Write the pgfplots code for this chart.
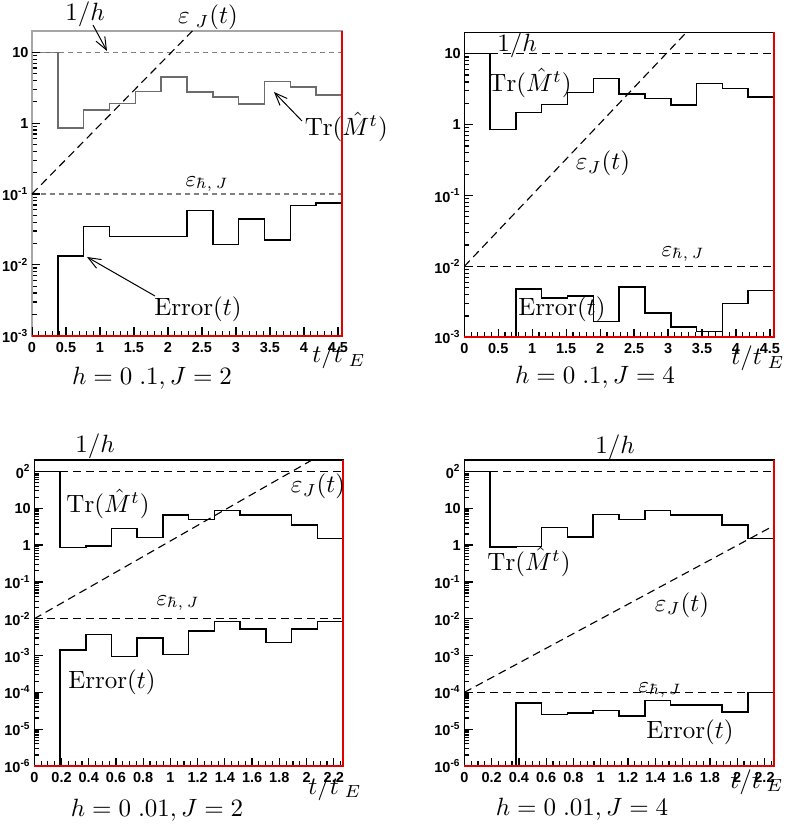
\documentclass[border=0pt]{standalone}
\usepackage{pgfplots}
\pgfplotsset{compat=1.18}
\usetikzlibrary{arrows.meta}
\usepackage{fontspec}
\newfontfamily\helv{Liberation Sans}

\pgfplotsset{
  rootpad/.style={
    scale only axis,
    tick align=inside,
    xtick pos=bottom, ytick pos=left,
    major tick length=3.4pt, minor tick length=2pt,
    ticklabel style={font=\helv\bfseries\fontsize{5.8}{7}\selectfont},
    xticklabel style={yshift=1pt},
    yticklabel style={inner sep=1.2pt},
    /pgf/number format/assume math mode=true,
    axis line style={line width=0.5pt},
  },
  every tick/.append style={black, line width=0.5pt},
  hist/.style={const plot, no marks, line width=0.6pt, black},
  guide/.style={no marks, line width=0.45pt, black, dash pattern=on 3.2pt off 2pt},
}
\newcommand{\redframe}[1]{\draw[red!90!black, line width=0.9pt] (#1.south west) -- (#1.south east) -- (#1.north east);}
% ROOT-style inward ticks: #1 ymin, #2 major x, #3 minor x, #4 major y, #5 minor y
\newcommand{\rootticks}[5]{%
  \pgfplotsinvokeforeach{#3}{\draw[black, line width=0.45pt] (axis cs:##1,#1) -- ([yshift=2pt]axis cs:##1,#1);}%
  \pgfplotsinvokeforeach{#2}{\draw[black, line width=0.5pt] (axis cs:##1,#1) -- ([yshift=3.4pt]axis cs:##1,#1);}%
  \pgfplotsinvokeforeach{#5}{\draw[black, line width=0.45pt] (axis cs:0,##1) -- ([xshift=2pt]axis cs:0,##1);}%
  \pgfplotsinvokeforeach{#4}{\draw[black, line width=0.5pt] (axis cs:0,##1) -- ([xshift=3.4pt]axis cs:0,##1);}%
}
\newcommand{\minorA}{2e-3,3e-3,4e-3,5e-3,6e-3,7e-3,8e-3,9e-3,2e-2,3e-2,4e-2,5e-2,6e-2,7e-2,8e-2,9e-2,0.2,0.3,0.4,0.5,0.6,0.7,0.8,0.9,2,3,4,5,6,7,8,9}
\newcommand{\minorB}{2e-6,3e-6,4e-6,5e-6,6e-6,7e-6,8e-6,9e-6,2e-5,3e-5,4e-5,5e-5,6e-5,7e-5,8e-5,9e-5,2e-4,3e-4,4e-4,5e-4,6e-4,7e-4,8e-4,9e-4,2e-3,3e-3,4e-3,5e-3,6e-3,7e-3,8e-3,9e-3,2e-2,3e-2,4e-2,5e-2,6e-2,7e-2,8e-2,9e-2,0.2,0.3,0.4,0.5,0.6,0.7,0.8,0.9,2,3,4,5,6,7,8,9,20,30,40,50,60,70,80,90}

\begin{document}
\begin{tikzpicture}
\path[use as bounding box] (0,0) rectangle (316.4pt,-330pt);

% h = 0.1, J = 2
\begin{axis}[ymode=log, rootpad, name=p1, at={(12.8pt,-134.28pt)}, width=124pt, height=121.9pt,
  xmin=0, xmax=4.56, ymin=1e-3, ymax=20,
  xtick={0,0.5,...,4.5},
  ytick={1e-3,1e-2,1e-1,1,10},
  yticklabels={10\textsuperscript{-3},10\textsuperscript{-2},10\textsuperscript{-1},1,10},
  axis line style={gray!70, line width=0.7pt}]
  \addplot[hist, gray!85!black] coordinates {(0,10) (0.38,0.85) (0.76,1.53) (1.14,1.89) (1.52,2.8) (1.9,4.5) (2.28,2.74) (2.66,2.33) (3.04,1.86) (3.42,3.84) (3.8,3.23) (4.18,2.49) (4.56,2.49)};
  \addplot[hist] coordinates {(0.38,1e-3) (0.38,0.0134) (0.76,0.0345) (1.14,0.0251) (1.52,0.0251) (1.9,0.0251) (2.28,0.0588) (2.66,0.0194) (3.04,0.0447) (3.42,0.0223) (3.8,0.0683) (4.18,0.0746) (4.56,0.0746)};
  \addplot[guide, gray, dash pattern=on 2pt off 1.6pt] coordinates {(0,10) (4.56,10)};
  \addplot[guide, gray, dash pattern=on 2pt off 1.6pt] coordinates {(0,0.1) (4.56,0.1)};
  \addplot[guide] coordinates {(0,0.1) (2.36,20)};
  \rootticks{1e-3}{0,0.5,...,4.5}{0.1,0.2,...,4.5}{1e-3,1e-2,1e-1,1,10}{\minorA}
\end{axis}
\redframe{p1}

% h = 0.1, J = 4
\begin{axis}[ymode=log, rootpad, name=p2, at={(185.72pt,-134.92pt)}, width=123.9pt, height=122pt,
  xmin=0, xmax=4.56, ymin=1e-3, ymax=20,
  xtick={0,0.5,...,4.5},
  ytick={1e-3,1e-2,1e-1,1,10},
  yticklabels={10\textsuperscript{-3},10\textsuperscript{-2},10\textsuperscript{-1},1,10}]
  \addplot[hist] coordinates {(0,10) (0.38,0.85) (0.76,1.49) (1.14,1.91) (1.52,2.85) (1.9,4.49) (2.28,2.71) (2.66,2.32) (3.04,1.89) (3.42,3.82) (3.8,3.21) (4.18,2.43) (4.56,2.43)};
  \addplot[hist] coordinates {(0.76,1e-3) (0.76,0.0048) (1.14,0.0036) (1.52,0.0038) (1.9,0.00166) (2.28,0.0051) (2.66,0.0022) (3.04,0.0014) (3.42,0.0012) (3.8,0.0030) (4.18,0.0046) (4.56,0.0046)};
  \addplot[guide] coordinates {(0,10) (4.56,10)};
  \addplot[guide] coordinates {(0,0.01) (4.56,0.01)};
  \addplot[guide] coordinates {(0,0.01) (3.27,20)};
  \rootticks{1e-3}{0,0.5,...,4.5}{0.1,0.2,...,4.5}{1e-3,1e-2,1e-1,1,10}{\minorA}
\end{axis}
\redframe{p2}

% h = 0.01, J = 2
\begin{axis}[ymode=log, rootpad, name=p3, at={(13.72pt,-306.4pt)}, width=123.6pt, height=122.4pt,
  xmin=0, xmax=2.27, ymin=1e-6, ymax=205,
  xtick={0,0.2,...,2.2},
  ytick={1e-6,1e-5,1e-4,1e-3,1e-2,1e-1,1,10,100},
  yticklabels={10\textsuperscript{-6},10\textsuperscript{-5},10\textsuperscript{-4},10\textsuperscript{-3},10\textsuperscript{-2},10\textsuperscript{-1},1,10,0\textsuperscript{2}}]
  \addplot[hist] coordinates {(0,100) (0.189,0.865) (0.378,0.94) (0.567,2.84) (0.756,1.62) (0.945,6.5) (1.134,5.0) (1.323,8.6) (1.512,6.5) (1.701,6.5) (1.89,3.5) (2.079,1.52) (2.27,1.52)};
  \addplot[hist] coordinates {(0.189,1e-6) (0.189,0.00142) (0.378,0.0037) (0.567,0.00094) (0.756,0.0030) (0.945,0.00108) (1.134,0.0046) (1.323,0.0084) (1.512,0.0052) (1.701,0.00225) (1.89,0.0053) (2.079,0.0084) (2.27,0.0084)};
  \addplot[guide] coordinates {(0,100) (2.27,100)};
  \addplot[guide] coordinates {(0,0.01) (2.27,0.01)};
  \addplot[guide] coordinates {(0,0.01) (2.04,205)};
  \rootticks{1e-6}{0,0.2,...,2.2}{0.05,0.1,...,2.25}{1e-6,1e-5,1e-4,1e-3,1e-2,1e-1,1,10,100}{\minorB}
\end{axis}
\redframe{p3}

% h = 0.01, J = 4
\begin{axis}[ymode=log, rootpad, name=p4, at={(185.72pt,-306.4pt)}, width=123.9pt, height=122.4pt,
  xmin=0, xmax=2.27, ymin=1e-6, ymax=205,
  xtick={0,0.2,...,2.2},
  ytick={1e-6,1e-5,1e-4,1e-3,1e-2,1e-1,1,10,100},
  yticklabels={10\textsuperscript{-6},10\textsuperscript{-5},10\textsuperscript{-4},10\textsuperscript{-3},10\textsuperscript{-2},10\textsuperscript{-1},1,10,0\textsuperscript{2}}]
  \addplot[hist] coordinates {(0,100) (0.189,0.88) (0.378,0.93) (0.567,2.97) (0.756,1.65) (0.945,6.7) (1.134,4.9) (1.323,8.6) (1.512,6.5) (1.701,6.5) (1.89,3.5) (2.079,1.52) (2.27,1.52)};
  \addplot[hist] coordinates {(0.378,1e-6) (0.378,5.1e-5) (0.567,2.5e-5) (0.756,2.75e-5) (0.945,3.2e-5) (1.134,2.3e-5) (1.323,6.1e-5) (1.512,4.6e-5) (1.701,4.5e-5) (1.89,2.9e-5) (2.079,1e-4) (2.27,1e-4)};
  \addplot[guide] coordinates {(0,100) (2.27,100)};
  \addplot[guide] coordinates {(0,1e-4) (2.27,1e-4)};
  \addplot[guide] coordinates {(0,1e-4) (2.27,3.4)};
  \rootticks{1e-6}{0,0.2,...,2.2}{0.05,0.1,...,2.25}{1e-6,1e-5,1e-4,1e-3,1e-2,1e-1,1,10,100}{\minorB}
\end{axis}
\redframe{p4}

\begin{scope}[x=0.4pt, y=-0.4pt]
  % top left
  \node at (85,14) {$1/h$};
  \draw[-{Straight Barb[length=5pt,width=4pt]}, thin] (93,25) -- (107,51);
  \node at (208,17) {$\varepsilon_{\;J}(t)$};
  \node[anchor=west] at (296,127) {$\mathrm{Tr}(\hat{M}^t)$};
  \draw[-{Straight Barb[length=5pt,width=4pt]}, thin] (302,121) -- (274,92);
  \node[font=\small] at (207,184) {$\varepsilon_{\hbar,\,J}$};
  \node at (198,309) {$\mathrm{Error}(t)$};
  \draw[-{Straight Barb[length=5pt,width=4pt]}, thin] (155,296) -- (87,257);
  \node at (339,356) {$t/t_{\;E}$};
  \node at (152,378) {$h = 0\;.1, J = 2$};
  % top right
  \node at (517,45) {$1/h$};
  \node at (530,83) {$\mathrm{Tr}(\hat{M}^t)$};
  \node at (603,163) {$\varepsilon_J(t)$};
  \node[font=\small] at (683,254) {$\varepsilon_{\hbar,\,J}$};
  \node at (562,309) {$\mathrm{Error}(t)$};
  \node at (758,358) {$t/t_{\;E}$};
  \node at (595,377) {$h = 0\;.1, J = 4$};
  % bottom left
  \node at (95,446) {$1/h$};
  \node at (108,504) {$\mathrm{Tr}(\hat{M}^t)$};
  \node at (318,486) {$\varepsilon_J(t)$};
  \node[font=\small] at (178,603) {$\varepsilon_{\hbar,\,J}$};
  \node at (112,682) {$\mathrm{Error}(t)$};
  \node at (335,788) {$t/t_{\;E}$};
  \node at (157,810) {$h = 0\;.01, J = 2$};
  % bottom right
  \node at (615,447) {$1/h$};
  \node at (529,562) {$\mathrm{Tr}(\hat{M}^t)$};
  \node at (682,605) {$\varepsilon_J(t)$};
  \node[font=\small] at (660,690) {$\varepsilon_{\hbar,\,J}$};
  \node at (690,732) {$\mathrm{Error}(t)$};
  \node at (757,782) {$t/t_{\;E}$};
  \node at (582,809) {$h = 0\;.01, J = 4$};
\end{scope}
\end{tikzpicture}
\end{document}
